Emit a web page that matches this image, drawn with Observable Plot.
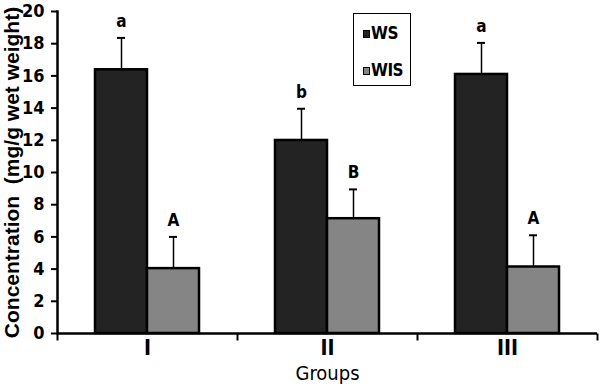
<!DOCTYPE html>
<html>
<head>
<meta charset="utf-8">
<script src="https://cdn.jsdelivr.net/npm/d3@7"></script>
<script src="https://cdn.jsdelivr.net/npm/@observablehq/plot@0.6"></script>
<style>
  html, body { margin: 0; padding: 0; background: #fff; }
  #wrap { position: relative; width: 601px; height: 388px; }
  #legend {
    position: absolute; left: 353px; top: 13px; width: 56px; height: 71px;
    border: 1.5px solid #000; background: #fff;
    font-family: "DejaVu Sans Condensed", "Liberation Sans", Arial, sans-serif;
    font-weight: bold; font-size: 17px; color: #000; letter-spacing: -0.5px;
  }
  #legend .item { position: absolute; left: 9px; display: flex; align-items: center; line-height: 1; }
  #legend .sw { width: 5px; height: 6px; border: 1.5px solid #000; margin-right: 1px; }
</style>
</head>
<body>
<div id="wrap">
  <div id="chart"></div>
  <div id="legend"></div>
</div>
<script>
// ---- data ----
const groups = ["I", "II", "III"];
const series = ["WS", "WIS"];
const wsMean = [16.38, 11.99, 16.09];
const wsSd = [1.98, 1.97, 1.96];
const wisMean = [4.03, 7.13, 4.13];
const wisSd = [1.97, 1.82, 1.97];
const wsLetters = ["a", "b", "a"];
const wisLetters = ["A", "B", "A"];
const yTicks = [0, 2, 4, 6, 8, 10, 12, 14, 16, 18, 20];
const colors = ["#232323", "#858585"];
const yLabel = "Concentration\u00a0 (mg/g wet weight)";
const xLabel = "Groups";

// ---- build table ----
const rows = [];
groups.forEach((g, i) => {
  rows.push({group: g, series: "WS", value: wsMean[i], sd: wsSd[i], letter: wsLetters[i]});
  rows.push({group: g, series: "WIS", value: wisMean[i], sd: wisSd[i], letter: wisLetters[i]});
});

const narrow = "'DejaVu Sans Condensed', 'Liberation Sans', Arial, sans-serif";
const wide = "'Liberation Sans', Arial, sans-serif";

// custom vertical tick symbol for category boundary ticks
const vtick = { draw(ctx) { ctx.moveTo(0, 0); ctx.lineTo(0, 7); } };

const chart = Plot.plot({
  width: 601,
  height: 388,
  marginTop: 11,
  marginBottom: 55,
  marginLeft: 57,
  marginRight: 4,
  style: { fontFamily: narrow, fontWeight: "bold", color: "#000", background: "#fff" },
  fx: { domain: groups, padding: 0, axis: null },
  x: { domain: series, paddingInner: 0, paddingOuter: 0.73, axis: null },
  y: { domain: [0, 20], axis: null },
  color: { domain: series, range: colors },
  marks: [
    Plot.axisY({ ticks: yTicks, tickSize: 6, tickPadding: 7, fontSize: 18, fontFamily: narrow, fontWeight: 700, label: null, strokeWidth: 2 }),
    Plot.frame({ anchor: "left", facetAnchor: "left", stroke: "#000", strokeWidth: 2.5 }),
    Plot.axisFx({ anchor: "bottom", tickSize: 0, tickPadding: 7, fontSize: 21, fontFamily: narrow, fontWeight: 700, label: null }),
    Plot.barY(rows, { fx: "group", x: "series", y: "value", fill: "series", stroke: "#000", strokeWidth: 2.5 }),
    Plot.ruleX(rows, { fx: "group", x: "series", y1: "value", y2: d => d.value + d.sd, stroke: "#000", strokeWidth: 1.5 }),
    Plot.tickY(rows, { fx: "group", x: "series", y: d => d.value + d.sd, insetLeft: 22, insetRight: 22, stroke: "#000", strokeWidth: 2 }),
    Plot.text(rows, { fx: "group", x: "series", y: d => d.value + d.sd, text: "letter", dy: -11, lineAnchor: "bottom", fontSize: 17, fontFamily: narrow, fontWeight: 700, fill: "#000" }),
    Plot.ruleY([0], { stroke: "#000", strokeWidth: 2.5 }),
    Plot.dot(groups, { fx: d => d, frameAnchor: "bottom-left", symbol: vtick, stroke: "#000", strokeWidth: 2, r: 4 }),
    Plot.dot(groups.slice(-1), { fx: d => d, frameAnchor: "bottom-right", symbol: vtick, stroke: "#000", strokeWidth: 2, r: 4 }),
    Plot.text([groups[0]], { fx: d => d, frameAnchor: "left", text: () => yLabel, rotate: -90, dx: -45, textAnchor: "middle", lineAnchor: "middle", fontSize: 21, fontFamily: wide, fontWeight: 700, fill: "#000" }),
    Plot.text([groups[1]], { fx: d => d, frameAnchor: "bottom", text: () => xLabel, dy: 40, textAnchor: "middle", lineAnchor: "middle", fontSize: 20, fontFamily: narrow, fontWeight: 400, fill: "#000" })
  ]
});
document.getElementById("chart").appendChild(chart);

// legend
const legend = document.getElementById("legend");
series.forEach((s, i) => {
  const item = document.createElement("div");
  item.className = "item";
  item.style.top = (i === 0 ? 11 : 48) + "px";
  const sw = document.createElement("span");
  sw.className = "sw";
  sw.style.background = colors[i];
  const t = document.createElement("span");
  t.textContent = s;
  item.appendChild(sw);
  item.appendChild(t);
  legend.appendChild(item);
});
</script>
</body>
</html>
